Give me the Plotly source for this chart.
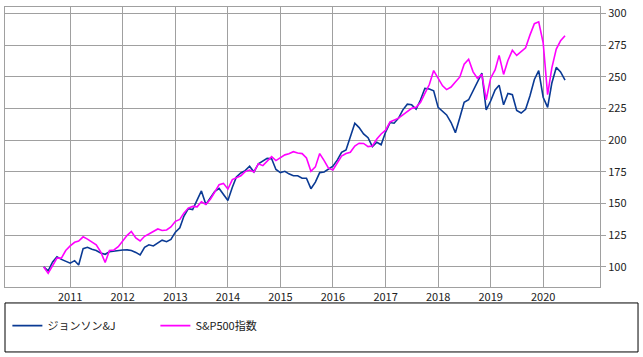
import pandas as pd
import plotly.graph_objects as go

# Monthly index values (Jul 2010 = 100)
start_month = "2010-07-01"
n_months = 120

jnj = [100, 97, 104, 108, 106, 104.5, 103, 105, 101.6, 114.5,
       115.5, 114, 113, 111, 110, 112, 112.5, 113.4, 113.4, 113.5,
       113, 111.5, 109.5, 115.5, 117.5, 116.6, 118.8, 121.2, 120, 121.8,
       127.5, 131, 140, 146, 145.3, 152.5, 160, 149.3, 154, 159.5,
       162, 156.8, 152.5, 163, 171, 174.2, 176, 179.5, 175, 181.5,
       183.5, 185.7, 185.5, 177, 174.5, 175.5, 173.5, 172, 172, 170,
       170, 161.8, 167, 174.5, 175, 177, 179.5, 184.5, 190.5, 192.4,
       203, 213.5, 210, 205, 202, 195, 198.5, 196.5, 206.5, 214,
       213.5, 217.5, 224, 228.5, 228, 224.5, 232, 241, 240.5, 239,
       226, 223, 220, 214, 206, 218, 230, 232, 239, 246,
       253, 224, 231, 239.7, 243.5, 228, 237, 236, 223.5, 221.5,
       224.5, 235, 248, 255, 234, 226, 245, 257.5, 254, 247.5]

sp500 = [100, 95, 101, 107, 107, 113, 116.6, 119.5, 120.5, 123.8,
         122, 119.5, 117.5, 112, 103.5, 113, 113.4, 116, 121, 125,
         128, 123, 120.5, 124.2, 126, 128, 130, 128.8, 129.2, 131.6,
         136, 137.5, 142.5, 146.5, 147.8, 147.5, 151.5, 149.3, 153.5, 159,
         165, 166, 161.5, 169, 170.3, 172, 175.3, 176.5, 175, 181.5,
         180, 183.5, 187.1, 184, 186, 188.5, 189.3, 191, 190, 189.5,
         186, 175.5, 179, 189.5, 184, 178, 176.6, 182, 187.5, 189.5,
         190.5, 195.5, 197.7, 197.5, 195, 195.5, 201, 205, 208, 214.5,
         216, 217.5, 220, 223, 225.2, 226, 230, 237, 244, 255,
         249, 243, 240, 242, 246, 250, 260, 264, 254, 249,
         252, 232, 249, 255.5, 267, 252, 263, 271, 267, 270,
         273, 283, 292, 293.5, 277, 236, 257, 272, 278.5, 282.5]

series_names = ["ジョンソン&J", "S&P500指数"]
series_colors = ["#0A3A94", "#FF00FF"]
year_ticks = [str(y) for y in range(2011, 2021)]
y_ticks = [100, 125, 150, 175, 200, 225, 250, 275, 300]

dates = pd.date_range(start_month, periods=n_months, freq="MS")

fig = go.Figure()
for name, vals, col in zip(series_names, [jnj, sp500], series_colors):
    fig.add_trace(go.Scatter(x=dates, y=vals, mode="lines", name=name,
                             line=dict(color=col, width=1.6)))

font_family = "Noto Sans CJK JP"
grid_col = "#A0A0A0"

fig.update_layout(
    width=643, height=357,
    margin=dict(l=5, r=43, t=7, b=70, autoexpand=False),
    paper_bgcolor="white", plot_bgcolor="white",
    font=dict(family=font_family, size=11, color="#222222"),
    showlegend=True,
    legend=dict(orientation="h", x=0.004, y=-0.086, xanchor="left", yanchor="top",
                entrywidth=103, entrywidthmode="pixels",
                font=dict(family=font_family, size=11, color="#222222"),
                bgcolor="rgba(0,0,0,0)", borderwidth=0),
    xaxis=dict(
        type="date", automargin=False,
        range=["2009-10-05", "2021-01-30"],
        tickvals=[f"{y}-01-01" for y in year_ticks],
        ticktext=year_ticks,
        showgrid=True, gridcolor=grid_col, gridwidth=1,
        showline=True, linecolor=grid_col, linewidth=1, mirror=True,
        ticks="", zeroline=False,
        tickfont=dict(family=font_family, size=11, color="#222222"),
    ),
    yaxis=dict(
        side="right", automargin=False,
        range=[84.2, 305.2],
        tickvals=y_ticks,
        showgrid=True, gridcolor=grid_col, gridwidth=1,
        showline=True, linecolor=grid_col, linewidth=1, mirror=True,
        ticks="outside", ticklen=5, tickcolor=grid_col,
        zeroline=False,
        tickfont=dict(family=font_family, size=11, color="#222222"),
    ),
    shapes=[dict(type="rect", xref="paper", yref="paper",
                 x0=0, x1=1.0639, y0=-0.057, y1=-0.232,
                 line=dict(color="black", width=1), fillcolor="rgba(0,0,0,0)")],
)

fig.write_html("out.html",
               config={"displayModeBar": False},
               post_script="document.body.style.margin='0px';document.body.style.overflow='hidden';")
